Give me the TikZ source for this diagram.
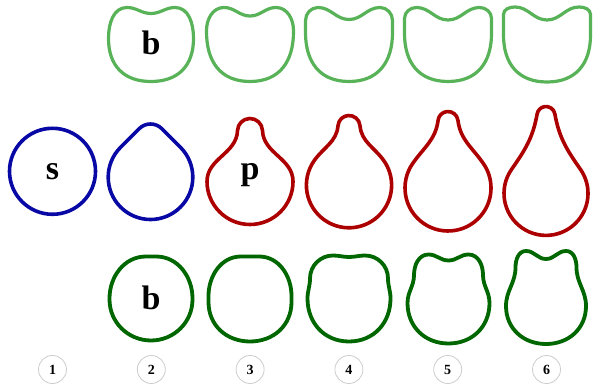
\documentclass[tikz,border=0pt]{standalone}
\usepackage{fontspec}
\setmainfont{Liberation Serif}
\usetikzlibrary{positioning}

\definecolor{sblue}{RGB}{8,8,165}
\definecolor{pred}{RGB}{172,0,0}
\definecolor{bdark}{RGB}{0,102,0}
\definecolor{blight}{RGB}{88,178,88}

\tikzset{
    bottom loose/.store in=\blobloose, bottom loose=1.15,
    % kidney / blob outline: top T, dip d, ear e, upper side (ux,uy), widest (W,yw)
    pics/blob/.style n args={7}{code={
        \draw[pic actions] (0,#1-#2) to[out=0,in=180] (#3,#1) to[out=0,in=90] (#4,#5)
            to[out=-90,in=90] (#6,#7) to[out=-90,in=0,looseness=\blobloose] (0,-#1)
            to[out=180,in=-90,looseness=\blobloose] (-#6,#7) to[out=90,in=-90] (-#4,#5)
            to[out=90,in=180] (-#3,#1) to[out=0,in=180] (0,#1-#2) -- cycle;
    }},
    % pear outline: bulb radius R, knob radius k, knob height h, join angle a, shoulder angle b
    pics/pear/.style n args={5}{code={
        \pgfmathsetmacro\pin{#4+180}
        \pgfmathsetmacro\pout{360-#4}
        \pgfmathsetmacro\pa{#4-90}
        \pgfmathsetmacro\pb{270-#4}
        \pgfmathsetmacro\px{#2*cos(#4-90)}
        \pgfmathsetmacro\py{#3+#2*sin(#4-90)}
        \pgfmathsetmacro\qout{#5+90}
        \pgfmathsetmacro\qin{90-#5}
        \pgfmathsetmacro\qs{180-#5}
        \pgfmathsetmacro\qe{360+#5}
        \draw[pic actions] (#5:#1) to[out=\qout,in=\pin] (\px,\py)
            arc[start angle=\pa, end angle=\pb, radius=#2]
            to[out=\pout,in=\qin] (\qs:#1) arc[start angle=\qs, end angle=\qe, radius=#1] -- cycle;
    }}
}

\begin{document}
\begin{tikzpicture}[
        x=1pt, y=1pt,
        every pic/.style={line join=round},
        toprow/.style={draw=blight, line width=3.2pt},
        midblue/.style={draw=sblue, line width=3.6pt},
        midred/.style={draw=pred, line width=3.6pt},
        botrow/.style={draw=bdark, line width=3.8pt},
        letter/.style={anchor=base, font=\bfseries\fontsize{34}{34}\selectfont},
        numcirc/.style={circle, draw=black!20, line width=0.8pt, minimum size=28pt,
            inner sep=0pt, font=\bfseries\fontsize{14}{14}\selectfont}
    ]
    \useasboundingbox (0,0) rectangle (596,390);

    % top row (light green)
    \pic[toprow] at (151,345.5) {blob={37}{6}{24}{42.5}{6.5}{42.5}{6}};
    \pic[toprow] at (250,345.5) {blob={37}{8.5}{26}{43.5}{14}{43.5}{13}};
    \pic[toprow] at (349,345.5) {blob={37}{12}{31}{43.5}{24}{43.5}{12}};
    \pic[toprow] at (448,345.5) {blob={37}{12.5}{31.5}{43.5}{26}{43.5}{11}};
    \pic[toprow] at (547,345.5) {blob={37.5}{13}{32}{43.5}{30}{43.5}{9.5}};

    % middle row (s -> p)
    \draw[midblue] (52.5,218.7) circle[radius=43];
    \pic[midblue] at (150.5,212.8) {pear={42.3}{16}{37.2}{135}{45}};
    \pic[midred] at (250,208.5) {pear={43}{12.5}{50.5}{92}{0}};
    \pic[midred] at (349,204.8) {pear={42.6}{11}{58.7}{95}{35}};
    \pic[midred] at (448,202) {pear={43}{10}{66.5}{97}{35}};
    \pic[midred] at (546,196.6) {pear={42}{9}{77.9}{100}{35}};

    % bottom row (dark green)
    \pic[botrow, bottom loose=1] at (151,91.5) {blob={42}{0}{5}{41.5}{0}{41.5}{-1}};
    \pic[botrow, bottom loose=1.05] at (250,91) {blob={42.5}{0}{9}{41.5}{3}{41.5}{-3}};
    \pic[botrow, bottom loose=1.05] at (349,91.5) {blob={43}{1.5}{16}{39}{20}{41.5}{0}};
    \pic[botrow, bottom loose=1.05] at (448.5,91) {blob={44.5}{6}{20}{34.5}{24}{41}{-4}};
    \pic[botrow, bottom loose=1.05] at (546,92.5) {blob={46.5}{8}{20}{30.5}{30}{40}{-8.5}};

    % letters
    \node[letter] (btop) at (151,335) {b};
    \node[letter] (s) at (52.5,210) {s};
    \node[letter] (p) at (250,210) {p};
    \node[letter] (bbot) at (151,80) {b};

    % step numbers
    \node[numcirc] (n1) at (52.5,20.5) {1};
    \node[numcirc] (n2) at (151.3,20.5) {2};
    \node[numcirc] (n3) at (250.1,20.5) {3};
    \node[numcirc] (n4) at (348.9,20.5) {4};
    \node[numcirc] (n5) at (447.7,20.5) {5};
    \node[numcirc] (n6) at (546.5,20.5) {6};
\end{tikzpicture}
\end{document}
